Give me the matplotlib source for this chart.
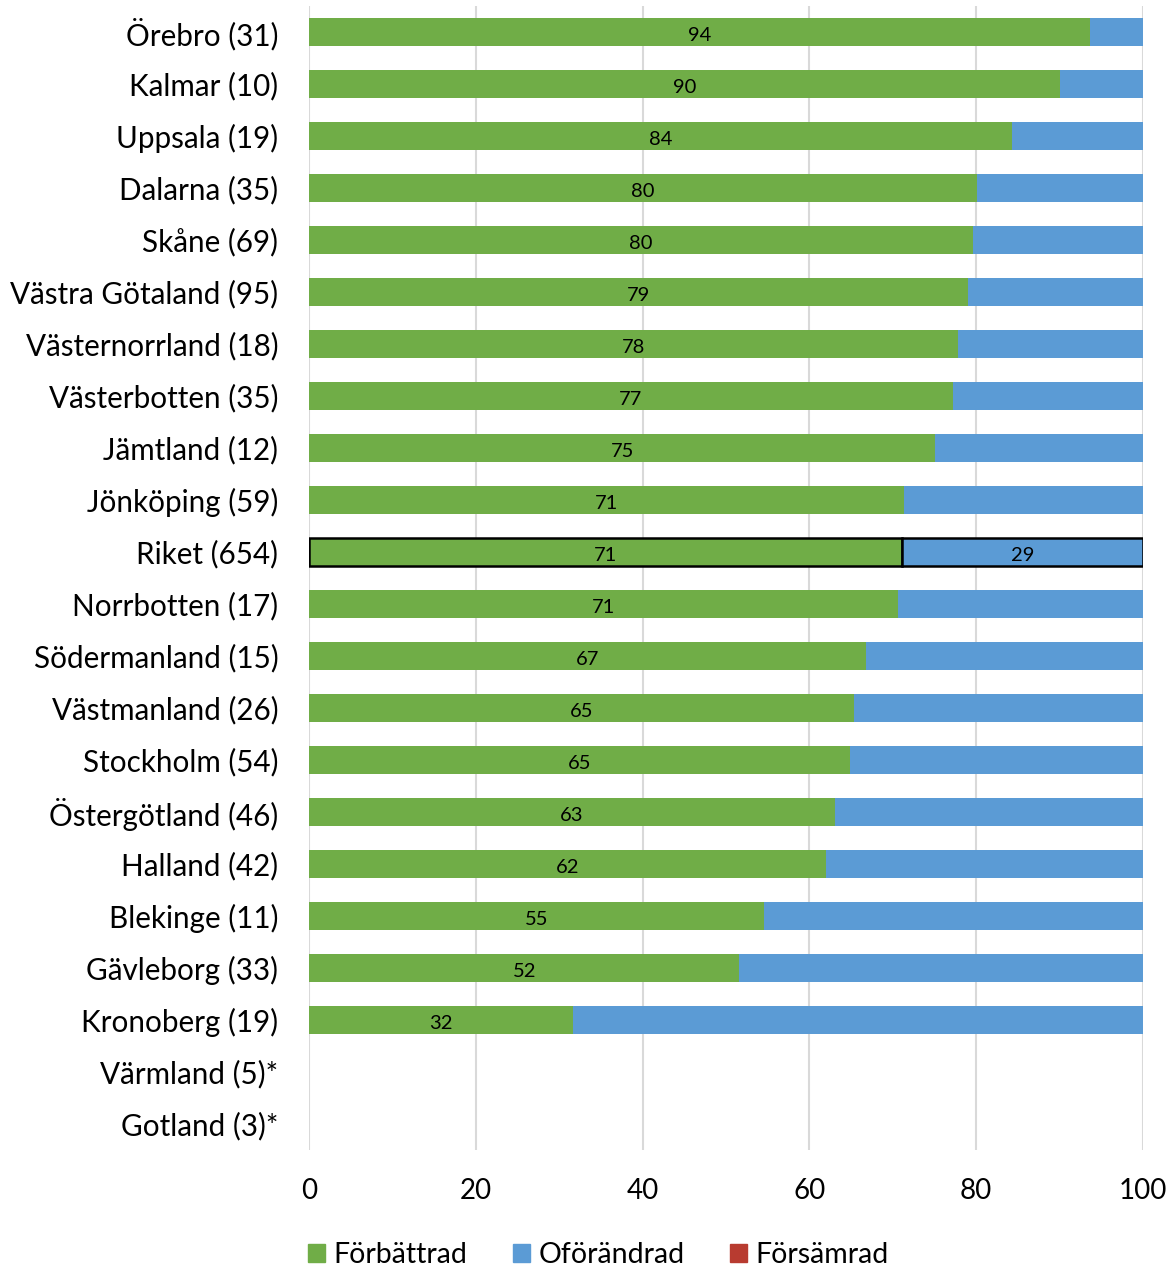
import matplotlib.pyplot as plt
import numpy as np
from matplotlib.patches import Patch

plt.rcParams['font.family'] = ['Lato', 'DejaVu Sans']

# regions, with number of answers in brackets
regions = ['Örebro (31)', 'Kalmar (10)', 'Uppsala (19)', 'Dalarna (35)', 'Skåne (69)',
           'Västra Götaland (95)', 'Västernorrland (18)', 'Västerbotten (35)', 'Jämtland (12)',
           'Jönköping (59)', 'Riket (654)', 'Norrbotten (17)', 'Södermanland (15)',
           'Västmanland (26)', 'Stockholm (54)', 'Östergötland (46)', 'Halland (42)',
           'Blekinge (11)', 'Gävleborg (33)', 'Kronoberg (19)', 'Värmland (5)*', 'Gotland (3)*']

# share (%) improved; nan = too few answers
forbattrad = [93.6, 90.0, 84.3, 80.1, 79.6, 79.0, 77.8, 77.2, 75.1, 71.3, 71.1, 70.6,
              66.8, 65.4, 64.9, 63.1, 62.0, 54.6, 51.6, 31.7, np.nan, np.nan]
forsamrad = [0, 0, 0, 0, 0, 0, 0, 0, 0, 0, 0, 0, 0, 0, 0, 0, 0, 0, 0, 0, np.nan, np.nan]

green = '#70AD47'
blue = '#5B9BD5'
red = '#B83B30'

forb = np.array(forbattrad)
fors = np.array(forsamrad)
ofor = 100 - forb - fors

fig = plt.figure(figsize=(11.73, 12.67), dpi=100)
ax = fig.add_axes([0.2634, 0.0923, 0.711, 0.903])

y = np.arange(len(regions))
riket = regions.index('Riket (654)')
h = 0.54

for i in y:
    if np.isnan(forb[i]):
        continue
    ec = 'black' if i == riket else 'none'
    lw = 1.8 if i == riket else 0
    ax.barh(i, forb[i], height=h, color=green, edgecolor=ec, linewidth=lw, zorder=3)
    ax.barh(i, ofor[i], left=forb[i], height=h, color=blue, edgecolor=ec, linewidth=lw, zorder=3)
    ax.barh(i, fors[i], left=forb[i] + ofor[i], height=h, color=red, linewidth=0, zorder=3)
    ax.text(forb[i] / 2, i + 0.06, f'{round(forb[i])}', ha='center', va='center',
            fontsize=14.5, zorder=4)
    if i == riket:
        ax.text(forb[i] + ofor[i] / 2, i + 0.06, f'{round(ofor[i])}', ha='center',
                va='center', fontsize=14.5, zorder=4)

ax.set_yticks(y)
ax.set_yticklabels(regions, fontsize=21.3)
ax.set_ylim(len(regions) - 0.5, -0.5)
ax.set_xlim(0, 100)
ax.set_xticks(range(0, 101, 20))
ax.tick_params(axis='x', labelsize=20, length=0, pad=20)
ax.tick_params(axis='y', length=0, pad=22)
ax.grid(axis='x', color='#D9D9D9', linewidth=1.5, zorder=0)
for s in ax.spines.values():
    s.set_visible(False)

handles = [Patch(color=green, label='Förbättrad'),
           Patch(color=blue, label='Oförändrad'),
           Patch(color=red, label='Försämrad')]
fig.legend(handles=handles, loc='lower center', bbox_to_anchor=(0.51, -0.021), ncol=3,
           frameon=False, fontsize=20.5, handlelength=0.6, handleheight=0.6,
           handletextpad=0.3, columnspacing=1.6)

fig.savefig('out.png', dpi=100)
